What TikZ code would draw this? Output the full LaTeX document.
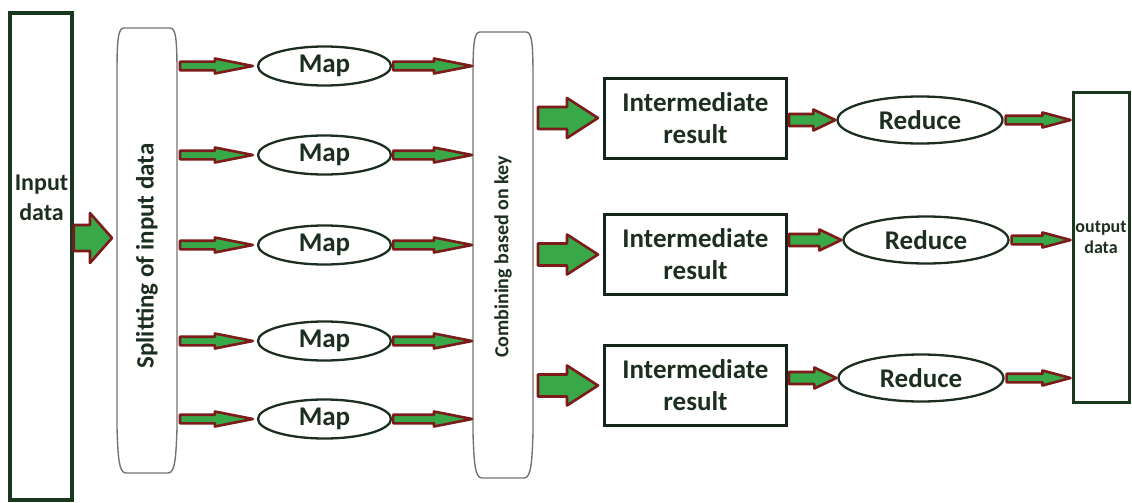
\documentclass[tikz,border=0pt]{standalone}
\usepackage{fontspec}
\setmainfont{Carlito}
\usetikzlibrary{calc,shapes.geometric}

\definecolor{fillgreen}{RGB}{56,168,72}
\definecolor{arrowred}{RGB}{125,26,26}
\definecolor{inkgreen}{RGB}{28,46,32}
\definecolor{framegreen}{RGB}{26,56,30}
\definecolor{capsulegray}{RGB}{115,115,115}

\tikzset{
  % horizontal block arrow: shaft half-width, head half-width, head length
  fatarrow/.style n args={3}{draw=arrowred, fill=fillgreen, line join=round,
    to path={let \p1=(\tikztostart), \p2=(\tikztotarget) in
      (\x1,\y1+#1) -- (\x2-#3,\y1+#1) -- (\x2-#3,\y1+#2) -- (\x2,\y1)
      -- (\x2-#3,\y1-#2) -- (\x2-#3,\y1-#1) -- (\x1,\y1-#1) -- cycle}},
  thinarrow/.style={fatarrow={4.3pt}{7.5pt}{38pt}, line width=2.6pt},
  outarrow/.style={fatarrow={4.3pt}{7.5pt}{28pt}, line width=2.6pt},
  midarrow/.style={fatarrow={6pt}{10.5pt}{22pt}, line width=2.6pt},
  bigarrow/.style={fatarrow={11pt}{20pt}{31pt}, line width=2.6pt},
  inarrow/.style={fatarrow={13pt}{25pt}{22pt}, line width=2.6pt},
  lbl/.style={text=inkgreen, font=\bfseries, inner sep=0pt},
  mapnode/.style={ellipse, draw=inkgreen, line width=2.3pt, inner sep=0pt,
    minimum width=133pt, minimum height=39pt, lbl,
    font=\bfseries\fontsize{27}{32}\selectfont},
  rednode/.style={ellipse, draw=inkgreen, line width=2.3pt, inner sep=0pt,
    minimum width=165pt, minimum height=47pt, lbl,
    font=\bfseries\fontsize{27}{32}\selectfont},
  resbox/.style={rectangle, draw=inkgreen!80!black, line width=3pt,
    minimum width=182pt, minimum height=80pt, align=center, lbl,
    font=\bfseries\fontsize{27}{32}\selectfont},
  tallbox/.style={rectangle, draw=framegreen, inner sep=0pt},
  capsule/.style={draw=capsulegray, line width=1.4pt},
  holder/.style={rectangle, draw=none, inner sep=0pt, outer sep=0pt},
}

\begin{document}
\begin{tikzpicture}[x=1pt, y=-1pt]
\useasboundingbox (0,0) rectangle (1132,503);

% input and output frames
\node[tallbox, line width=3.5pt, minimum width=62pt, minimum height=487pt] (input) at (41,256.5) {};
\node[lbl, align=center, font=\bfseries\fontsize{24}{30}\selectfont] (inputlbl) at (41.5,198) {Input\\data};
\node[tallbox, line width=3pt, minimum width=56pt, minimum height=310pt] (output) at (1101,247) {};
\node[lbl, align=center, font=\bfseries\fontsize{18}{21}\selectfont] (outputlbl) at (1101,237) {output\\data};

% splitting and combining capsules
\node[holder, minimum width=60pt, minimum height=445pt] (split) at (147,250.5) {};
\node[holder, minimum width=60pt, minimum height=446pt] (comb) at (503,255) {};
\foreach \n in {split,comb} {
  \draw[capsule] ([yshift=45pt]\n.south west) -- ([yshift=-45pt]\n.north west)
    .. controls ([yshift=-12pt]\n.north west) and ([xshift=1pt]\n.north west) .. ([xshift=7pt]\n.north west)
    -- ([xshift=-7pt]\n.north east)
    .. controls ([xshift=-1pt]\n.north east) and ([yshift=-12pt]\n.north east) .. ([yshift=-45pt]\n.north east)
    -- ([yshift=45pt]\n.south east)
    .. controls ([xshift=-1pt,yshift=15pt]\n.south east) and ([xshift=-2pt]\n.south east) .. ([xshift=-9pt]\n.south east)
    -- ([xshift=9pt]\n.south west)
    .. controls ([xshift=2pt]\n.south west) and ([xshift=1pt,yshift=15pt]\n.south west) .. ([yshift=45pt]\n.south west)
    -- cycle;
}
\node[lbl, rotate=90, font=\bfseries\fontsize{25}{30}\selectfont] (splitlbl) at (147,256) {Splitting of input data};
\node[lbl, rotate=90, font=\bfseries\fontsize{20}{24}\selectfont] (comblbl) at (503,257) {Combining based on key};

% map stage
\node[mapnode] (m1) at (324.5,66) {Map};
\node[mapnode] (m2) at (324.5,155) {Map};
\node[mapnode] (m3) at (324.5,245) {Map};
\node[mapnode] (m4) at (324.5,341) {Map};
\node[mapnode] (m5) at (324.5,419) {Map};

% intermediate results
\node[resbox] (r1) at (695.5,118) {Intermediate\\result};
\node[resbox] (r2) at (695.5,254.5) {Intermediate\\result};
\node[resbox] (r3) at (695.5,385.5) {Intermediate\\result};

% reduce stage
\node[rednode] (red1) at (920,120) {Reduce};
\node[rednode] (red2) at (926,240) {Reduce};
\node[rednode] (red3) at (921,378) {Reduce};

% connectors
\coordinate (inlevel) at (90,238);
\draw[inarrow] (input.east |- inlevel) to ([xshift=-5pt]split.west |- inlevel);

\foreach \i in {1,...,5} {
  \draw[thinarrow] ([xshift=3pt]split.east |- m\i) to ([xshift=-4pt]m\i.west);
  \draw[thinarrow] ([xshift=1pt]m\i.east) to ([xshift=-1pt]comb.west |- m\i);
}
\foreach \i in {1,2,3} {
  \draw[bigarrow] ([xshift=5pt]comb.east |- r\i) to ([xshift=-5pt]r\i.west);
  \draw[midarrow] ([xshift=1pt]r\i.east |- red\i) to ([xshift=-1pt]red\i.west);
  \draw[outarrow] ([xshift=2pt]red\i.east) to ([xshift=-1pt]output.west |- red\i);
}
\end{tikzpicture}
\end{document}
